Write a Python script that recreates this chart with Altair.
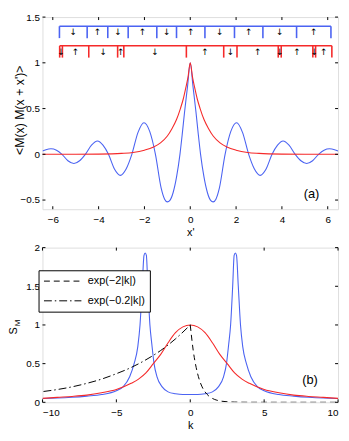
import altair as alt
import pandas as pd

BLUE = "#4b63f2"
RED = "#f52a2a"
FONT = "Liberation Sans"

# ---------------- panel (a) ----------------
xa_blue = [-6.45, -6.30, -6.08, -5.84, -5.60, -5.34, -5.08, -4.83, -4.58, -4.31, -4.05, -3.81,
           -3.57, -3.31, -3.05, -2.80, -2.55, -2.28, -2.02, -1.77, -1.52, -1.27, -1.12, -1.00,
           -0.88, -0.75, -0.60, -0.45, -0.35, -0.25, -0.12, 0.00,
           0.12, 0.25, 0.35, 0.45, 0.60, 0.75, 0.88, 1.00, 1.12, 1.27, 1.52, 1.77, 2.02, 2.28,
           2.55, 2.80, 3.05, 3.31, 3.57, 3.81, 4.05, 4.31, 4.58, 4.83, 5.08, 5.34, 5.60, 5.84,
           6.08, 6.30, 6.45]
ya_blue = [0.035, 0.05, 0.06, 0.045, 0.0, -0.07, -0.10, -0.07, 0.0, 0.10, 0.145, 0.10,
           0.0, -0.16, -0.23, -0.16, 0.0, 0.24, 0.345, 0.25, 0.0, -0.37, -0.49, -0.52,
           -0.50, -0.42, -0.25, 0.0, 0.22, 0.46, 0.74, 1.0,
           0.74, 0.46, 0.22, 0.0, -0.25, -0.42, -0.50, -0.52, -0.49, -0.37, 0.0, 0.25, 0.345, 0.24,
           0.0, -0.16, -0.23, -0.16, 0.0, 0.10, 0.145, 0.10, 0.0, -0.07, -0.10, -0.07, 0.0, 0.045,
           0.06, 0.05, 0.035]

xa_red = [-6.45, -5.0, -4.0, -3.0, -2.5, -2.0, -1.6, -1.3, -1.0, -0.8, -0.6, -0.43, -0.3, -0.2, -0.1, 0.0,
          0.1, 0.2, 0.3, 0.43, 0.6, 0.8, 1.0, 1.3, 1.6, 2.0, 2.5, 3.0, 4.0, 5.0, 6.45]
ya_red = [0.0, 0.0, 0.002, 0.01, 0.02, 0.045, 0.08, 0.125, 0.2, 0.28, 0.38, 0.5, 0.61, 0.72, 0.84, 1.0,
          0.84, 0.72, 0.61, 0.5, 0.38, 0.28, 0.2, 0.125, 0.08, 0.045, 0.02, 0.01, 0.002, 0.0, 0.0]

blue_walls = [-5.71, -4.50, -3.60, -2.71, -1.46, -0.60, 0.64, 1.93, 3.17, 4.64, 6.14]
blue_spins = ["↓", "↑", "↓", "↑", "↓", "↑", "↓", "↑", "↓", "↑"]
red_walls = [-5.70, -5.58, -4.43, -3.17, -2.90, -0.17, 1.46, 2.04, 3.84, 3.97, 5.35, 5.47, 6.18]
red_spins = ["↓", "↑", "↓", "↑", "↓", "↑", "↓", "↑", "↓", "↑", "↓", "↑"]

xa_ticks = [-6, -4, -2, 0, 2, 4, 6]
ya_ticks = [-0.5, 0, 0.5, 1, 1.5]

# ---------------- panel (b) ----------------
kb_blue = [-10, -9, -8, -7, -6, -5, -4.55, -4.1, -3.8, -3.55, -3.4, -3.25, -3.13, -3.05, -2.97,
           -2.87, -2.73, -2.6, -2.45, -2.25, -1.9, -1.5, -1, -0.5, 0,
           0.5, 1, 1.5, 1.9, 2.25, 2.45, 2.6, 2.73, 2.87, 2.97, 3.05, 3.13, 3.25, 3.4, 3.55,
           3.8, 4.1, 4.55, 5, 6, 7, 8, 9, 10]
sb_blue = [0.05, 0.055, 0.065, 0.08, 0.1, 0.15, 0.2, 0.33, 0.5, 0.72, 1.0, 1.5, 1.9, 1.93, 1.9,
           1.5, 1.0, 0.75, 0.5, 0.33, 0.2, 0.135, 0.11, 0.1, 0.1,
           0.1, 0.11, 0.135, 0.2, 0.33, 0.5, 0.75, 1.0, 1.5, 1.9, 1.93, 1.9, 1.5, 1.0, 0.72,
           0.5, 0.33, 0.2, 0.15, 0.1, 0.08, 0.065, 0.055, 0.05]

kb_red = [-10, -9, -8, -7, -6, -5, -4, -3.5, -3, -2.5, -2, -1.5, -1, -0.5, 0,
          0.5, 1, 1.5, 2, 2.5, 3, 3.5, 4, 5, 6, 7, 8, 9, 10]
sb_red = [0.051, 0.064, 0.076, 0.093, 0.123, 0.165, 0.245, 0.3, 0.38, 0.5, 0.62, 0.77, 0.9, 0.975, 1.0,
          0.975, 0.9, 0.77, 0.62, 0.5, 0.38, 0.3, 0.245, 0.165, 0.123, 0.093, 0.076, 0.064, 0.051]

k_dash = [0, 0.2, 0.4, 0.6, 0.8, 1.0, 1.25, 1.5, 1.75, 2, 2.5, 3, 4, 5, 10]
s_dash = [1.0, 0.67, 0.45, 0.3, 0.2, 0.135, 0.082, 0.05, 0.03, 0.018, 0.007, 0.0025, 0.0003, 0.0, 0.0]
k_dashdot = [-9.93, -9, -8, -7, -6, -5, -4, -3, -2, -1, 0]
s_dashdot = [0.14, 0.165, 0.2, 0.245, 0.3, 0.37, 0.45, 0.55, 0.67, 0.82, 1.0]

kb_ticks = [-10, -5, 0, 5, 10]
sb_ticks = [0, 0.5, 1, 1.5, 2]

NAME_DASH = "exp(−2|k|)"
NAME_DASHDOT = "exp(−0.2|k|)"

TITLE_YA = "<M(x) M(x + x')>"
TITLE_YB = "S"
TITLE_YB_SUB = "M"

# ---------------- layout ----------------
W = 300
HA = 195
HB = 157
TK = 3  # inward tick length

xs_a = alt.Scale(domain=[-6.45, 6.45], nice=False, zero=False)
ys_a = alt.Scale(domain=[-0.6, 1.5], nice=False, zero=False)
xs_b = alt.Scale(domain=[-10, 10], nice=False, zero=False)
ys_b = alt.Scale(domain=[0, 2], nice=False, zero=False)

axis_common = dict(ticks=False, domain=False, grid=False, format="~r",
                   labelFontSize=10, labelFont=FONT, titleFont=FONT,
                   labelColor="black", titleColor="black", titleFontWeight="normal")

ax_xa = alt.Axis(values=xa_ticks, title="x'", labelPadding=5, titlePadding=3, titleFontSize=11, **axis_common)
ax_ya = alt.Axis(values=ya_ticks, title=None, labelPadding=3, **axis_common)
ax_xb = alt.Axis(values=kb_ticks, title="k", labelPadding=5, titlePadding=3, titleFontSize=11, **axis_common)
ax_yb = alt.Axis(values=sb_ticks, title=None, labelPadding=3, **axis_common)


def inner_ticks(xticks, yticks, xs, ys, ax_x, ax_y, H):
    dfx = pd.DataFrame({"xv": xticks})
    dfy = pd.DataFrame({"yv": yticks})
    bx = alt.Chart(dfx).mark_rule(color="black", strokeWidth=1).encode(
        x=alt.X("xv:Q", scale=xs, axis=ax_x), y=alt.value(H), y2=alt.value(H - TK))
    tx = alt.Chart(dfx).mark_rule(color="black", strokeWidth=1).encode(
        x=alt.X("xv:Q", scale=xs, axis=ax_x), y=alt.value(0), y2=alt.value(TK))
    ly = alt.Chart(dfy).mark_rule(color="black", strokeWidth=1).encode(
        y=alt.Y("yv:Q", scale=ys, axis=ax_y), x=alt.value(0), x2=alt.value(TK))
    ry = alt.Chart(dfy).mark_rule(color="black", strokeWidth=1).encode(
        y=alt.Y("yv:Q", scale=ys, axis=ax_y), x=alt.value(W), x2=alt.value(W - TK))
    return [bx, tx, ly, ry]


def side_title(text, x, y, size):
    return alt.Chart(pd.DataFrame({"t": [text]})).mark_text(
        font=FONT, fontSize=size, color="black", angle=270, baseline="middle", align="center",
        clip=False).encode(x=alt.value(x), y=alt.value(y), text="t:N")


# ----- panel (a) charts -----
df_ab = pd.DataFrame({"x": xa_blue, "y": ya_blue})
df_ar = pd.DataFrame({"x": xa_red, "y": ya_red})

line_ab = alt.Chart(df_ab).mark_line(color=BLUE, strokeWidth=1.1, clip=True, interpolate="monotone").encode(
    x=alt.X("x:Q", scale=xs_a, axis=ax_xa), y=alt.Y("y:Q", scale=ys_a, axis=ax_ya))
line_ar = alt.Chart(df_ar).mark_line(color=RED, strokeWidth=1.1, clip=True, interpolate="monotone").encode(
    x=alt.X("x:Q", scale=xs_a, axis=ax_xa), y=alt.Y("y:Q", scale=ys_a, axis=ax_ya))

ROW_BLUE = (1.40, 1.27, 1.335)
ROW_RED = (1.186, 1.057, 1.12)


def spin_row(walls, spins, color, row):
    top, bot, mid = row
    df_h = pd.DataFrame({"x0": [walls[0]], "x1": [walls[-1]], "y": [top]})
    df_w = pd.DataFrame({"x": walls, "y0": [top] * len(walls), "y1": [bot] * len(walls)})
    df_s = pd.DataFrame({"x": [(walls[i] + walls[i + 1]) / 2 for i in range(len(spins))],
                         "y": [mid] * len(spins), "s": spins})
    h = alt.Chart(df_h).mark_rule(color=color, strokeWidth=1.4).encode(
        x=alt.X("x0:Q", scale=xs_a, axis=ax_xa), x2="x1:Q", y=alt.Y("y:Q", scale=ys_a, axis=ax_ya))
    w = alt.Chart(df_w).mark_rule(color=color, strokeWidth=1.6).encode(
        x=alt.X("x:Q", scale=xs_a, axis=ax_xa), y=alt.Y("y0:Q", scale=ys_a, axis=ax_ya), y2="y1:Q")
    s = alt.Chart(df_s).mark_text(font="DejaVu Sans", fontSize=9, color="black", baseline="middle").encode(
        x=alt.X("x:Q", scale=xs_a, axis=ax_xa), y=alt.Y("y:Q", scale=ys_a, axis=ax_ya), text="s:N")
    return [h, w, s]


lab_a = alt.Chart(pd.DataFrame({"x": [5.29], "y": [-0.43], "t": ["(a)"]})).mark_text(
    font=FONT, fontSize=13, color="black", baseline="middle").encode(
    x=alt.X("x:Q", scale=xs_a, axis=ax_xa), y=alt.Y("y:Q", scale=ys_a, axis=ax_ya), text="t:N")

panel_a = alt.layer(
    line_ab, line_ar,
    *spin_row(blue_walls, blue_spins, BLUE, ROW_BLUE),
    *spin_row(red_walls, red_spins, RED, ROW_RED),
    lab_a,
    side_title(TITLE_YA, -23, HA / 2 - 3, 12.5),
    *inner_ticks(xa_ticks, ya_ticks, xs_a, ys_a, ax_xa, ax_ya, HA),
).properties(width=W, height=HA)

# ----- panel (b) charts -----
df_bb = pd.DataFrame({"k": kb_blue, "s": sb_blue})
df_br = pd.DataFrame({"k": kb_red, "s": sb_red})
df_exp = pd.concat([
    pd.DataFrame({"k": k_dash, "s": s_dash, "series": NAME_DASH}),
    pd.DataFrame({"k": k_dashdot, "s": s_dashdot, "series": NAME_DASHDOT}),
])

line_bb = alt.Chart(df_bb).mark_line(color=BLUE, strokeWidth=1.1, clip=True, interpolate="monotone").encode(
    x=alt.X("k:Q", scale=xs_b, axis=ax_xb), y=alt.Y("s:Q", scale=ys_b, axis=ax_yb))
line_br = alt.Chart(df_br).mark_line(color=RED, strokeWidth=1.1, clip=True, interpolate="monotone").encode(
    x=alt.X("k:Q", scale=xs_b, axis=ax_xb), y=alt.Y("s:Q", scale=ys_b, axis=ax_yb))

legend_b = alt.Legend(orient="none", legendX=-4, legendY=23, title=None, direction="vertical",
                      strokeColor="black", fillColor="white", padding=5, cornerRadius=0,
                      symbolType="stroke", symbolSize=1444, symbolStrokeWidth=1, clipHeight=12,
                      symbolStrokeColor="black", labelFont=FONT, labelFontSize=11,
                      labelColor="black", rowPadding=8, labelOffset=6)

line_exp = alt.Chart(df_exp).mark_line(color="black", strokeWidth=1, clip=True, interpolate="monotone").encode(
    x=alt.X("k:Q", scale=xs_b, axis=ax_xb), y=alt.Y("s:Q", scale=ys_b, axis=ax_yb),
    strokeDash=alt.StrokeDash("series:N", scale=alt.Scale(domain=[NAME_DASH, NAME_DASHDOT],
                                                          range=[[6, 4], [8, 3, 1.5, 3]]),
                              legend=legend_b))

lab_b = alt.Chart(pd.DataFrame({"k": [8.1], "s": [0.287], "t": ["(b)"]})).mark_text(
    font=FONT, fontSize=13, color="black", baseline="middle").encode(
    x=alt.X("k:Q", scale=xs_b, axis=ax_xb), y=alt.Y("s:Q", scale=ys_b, axis=ax_yb), text="t:N")

panel_b = alt.layer(
    line_bb, line_br, line_exp, lab_b,
    side_title(TITLE_YB, -28.5, 84.5, 11),
    side_title(TITLE_YB_SUB, -25, 76.5, 8),
    *inner_ticks(kb_ticks, sb_ticks, xs_b, ys_b, ax_xb, ax_yb, HB),
).properties(width=W, height=HB)

chart = alt.vconcat(panel_a, panel_b, spacing=39, bounds="flush").resolve_legend(
    strokeDash="independent"
).properties(
    padding={"left": 0, "top": 0, "right": 2, "bottom": 2}
).configure_view(stroke="black", strokeWidth=1).configure(font=FONT)

chart.save("out.html", embed_options={"renderer": "svg", "actions": False})
